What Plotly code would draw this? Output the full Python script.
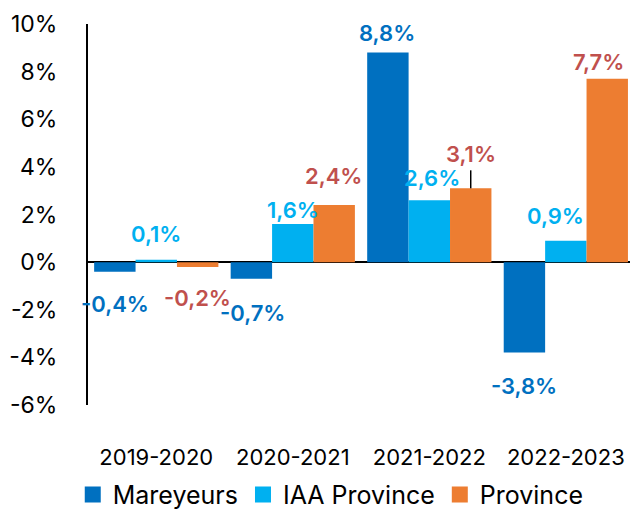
import plotly.graph_objects as go

categories = ["2019-2020", "2020-2021", "2021-2022", "2022-2023"]
series_names = ["Mareyeurs", "IAA Province", "Province"]
mareyeurs = [-0.4, -0.7, 8.8, -3.8]
iaa_province = [0.1, 1.6, 2.6, 0.9]
province = [-0.2, 2.4, 3.1, 7.7]
y_ticks = [-6, -4, -2, 0, 2, 4, 6, 8, 10]
y_tick_labels = ["-6%", "-4%", "-2%", "0%", "2%", "4%", "6%", "8%", "10%"]

values = [mareyeurs, iaa_province, province]
bar_colors = ["#0070C0", "#00B0F0", "#ED7D31"]
label_colors = ["#0070C0", "#00B0F0", "#C0504D"]
# pixel nudges for data labels (style only)
label_dy = [[-32, -34, 20, -33], [26, 14, 22, 25], [-31, 29, 34, 17]]
label_dx = [[0, 1, -1, 0], [0, 0, 3, -10], [0, -1, 0, -9]]

FONT = "Inter, Lato, sans-serif"
bargap = 0.09
bw = (1 - bargap) / 3

fig = go.Figure()
for k, (name, vals) in enumerate(zip(series_names, values)):
    fig.add_trace(go.Bar(x=categories, y=vals, name=name, marker_color=bar_colors[k],
                         marker_line_width=0, showlegend=False))
for k, name in enumerate(series_names):
    fig.add_trace(go.Scatter(x=[None], y=[None], mode="markers", name=name,
                             marker=dict(symbol="square", size=17, color=bar_colors[k])))

annotations = []
for k, vals in enumerate(values):
    for i, v in enumerate(vals):
        annotations.append(dict(
            x=i + (k - 1) * bw, y=v, xref="x", yref="y",
            text=f"{v:.1f}%".replace(".", ","), showarrow=False,
            xanchor="center", yanchor="middle",
            xshift=label_dx[k][i], yshift=label_dy[k][i],
            font=dict(family=FONT, size=22, color=label_colors[k], weight=600)))

shapes = [dict(type="line", xref="x", yref="y", x0=2 + bw, x1=2 + bw,
               ysizemode="pixel", yanchor=province[2], y0=0, y1=18,
               line=dict(color="black", width=1.5))]

fig.update_layout(
    width=630, height=510,
    margin=dict(l=88, r=0, t=24, b=105),
    plot_bgcolor="white", paper_bgcolor="white",
    barmode="group", bargap=bargap, bargroupgap=0,
    font=dict(family=FONT, color="black", size=22),
    annotations=annotations, shapes=shapes,
    legend=dict(orientation="h", xref="container", yref="container",
                x=0.525, xanchor="center", y=0.03, yanchor="middle",
                font=dict(size=25, family=FONT), itemwidth=30, tracegroupgap=0),
    xaxis=dict(type="category", range=[-0.5, 3.47], showgrid=False, showline=False,
               zeroline=False, ticks="outside", ticklen=33, tickcolor="rgba(0,0,0,0)",
               tickfont=dict(size=22, family=FONT)),
    yaxis=dict(range=[-6, 10], tickvals=y_ticks, ticktext=y_tick_labels,
               showgrid=False, showline=True, linecolor="black", linewidth=2,
               zeroline=True, zerolinecolor="black", zerolinewidth=2,
               ticks="outside", ticklen=24, tickcolor="rgba(0,0,0,0)",
               tickfont=dict(size=23, family=FONT)),
)

fig.write_html("out.html", config={"displayModeBar": False},
               post_script="document.body.style.margin='0';document.body.style.overflow='hidden';")
